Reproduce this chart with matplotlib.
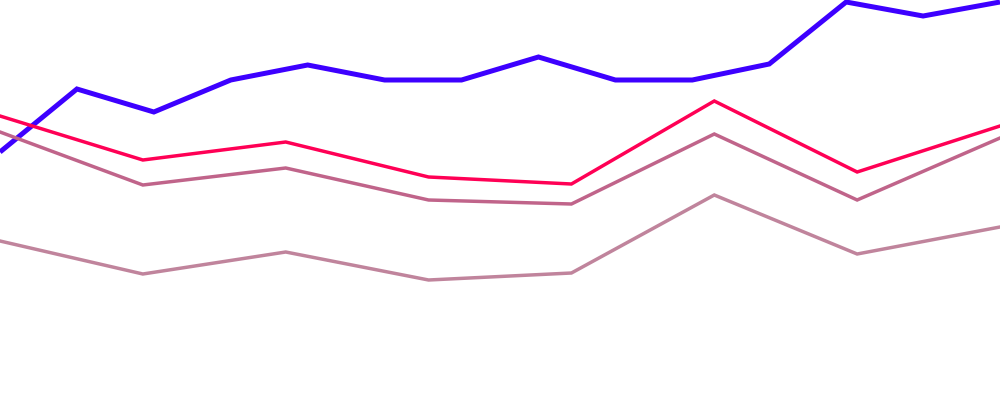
import matplotlib
matplotlib.use("Agg")
import matplotlib.pyplot as plt

# values measured as height above the bottom (0..400)
blue_x = list(range(14))
blue_vals = [248, 311, 288, 320, 335, 320, 320, 343, 320, 320, 336, 398, 384, 398]

pink_x = list(range(8))
red_vals = [284, 240, 258, 223, 216, 299, 228, 274]
mauve_vals = [268, 215, 232, 200, 196, 266, 200, 262]
light_vals = [159, 126, 148, 120, 127, 205, 146, 173]

fig = plt.figure(figsize=(10, 4), dpi=100)
ax_b = fig.add_axes([0, 0, 1, 1])
ax_b.plot(blue_x, blue_vals, color="#3d00ff", lw=3.6, solid_joinstyle="miter", solid_capstyle="butt")
ax_b.set_xlim(0, 13)
ax_b.set_ylim(0, 400)
ax_b.axis("off")

ax_p = fig.add_axes([0, 0, 1, 1])
ax_p.patch.set_alpha(0)
ax_p.plot(pink_x, light_vals, color="#c0849c", lw=2.5, solid_joinstyle="miter")
ax_p.plot(pink_x, mauve_vals, color="#c0648a", lw=2.5, solid_joinstyle="miter")
ax_p.plot(pink_x, red_vals, color="#ff0055", lw=2.5, solid_joinstyle="miter")
ax_p.set_xlim(0, 7)
ax_p.set_ylim(0, 400)
ax_p.axis("off")

fig.savefig("out.png", dpi=100)
